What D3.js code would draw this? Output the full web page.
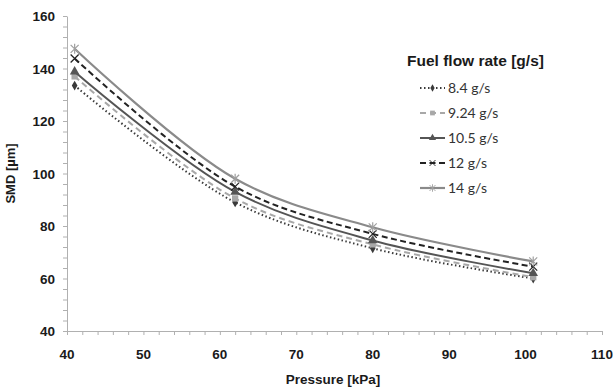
<!DOCTYPE html>
<html>
<head>
<meta charset="utf-8">
<script src="https://cdn.jsdelivr.net/npm/d3@7"></script>
<style>
  body { margin: 0; background: #fff; }
  svg { font-family: "Liberation Sans", Arial, sans-serif; }
</style>
</head>
<body>
<div id="chart"></div>
<script>
var pressure = [41, 62, 80, 101];
var seriesNames = ["8.4 g/s", "9.24 g/s", "10.5 g/s", "12 g/s", "14 g/s"];
var smd84 = [133.5, 89, 71.5, 60];
var smd924 = [137, 90.5, 73, 60.5];
var smd105 = [138.8, 93, 74.5, 62];
var smd12 = [143.8, 95, 77, 64.5];
var smd14 = [147.5, 98, 79.5, 66.5];
var xTicks = [40, 50, 60, 70, 80, 90, 100, 110];
var yTicks = [40, 60, 80, 100, 120, 140, 160];

var width = 613, height = 389;
var svg = d3.select("#chart").append("svg")
  .attr("width", width)
  .attr("height", height);

var scX = d3.scaleLinear().domain([40, 110]).range([67, 602]);
var scY = d3.scaleLinear().domain([40, 160]).range([331, 16]);

// axes
var axGrey = "#b0b0b0";
var xMinor = d3.range(40, 110.1, 2);
var yMinor = d3.range(40, 160.1, 4);

var gx = svg.append("g").attr("transform", `translate(0, ${scY(40)})`);
gx.call(d3.axisBottom(scX).tickValues(xMinor).tickFormat("").tickSize(4).tickSizeOuter(0));
gx.call(g => g.selectAll("line, path").attr("stroke", axGrey));
gx.append("g").selectAll("text")
  .data(xTicks).enter().append("text")
  .attr("x", d => scX(d))
  .attr("y", 28)
  .attr("text-anchor", "middle")
  .attr("font-size", 13.5)
  .attr("font-weight", "bold")
  .attr("fill", "#1a1a1a")
  .text(d => d);

var gy = svg.append("g").attr("transform", `translate(${scX(40)}, 0)`);
gy.call(d3.axisLeft(scY).tickValues(yMinor).tickFormat("").tickSize(4).tickSizeOuter(0));
gy.call(g => g.selectAll("line, path").attr("stroke", axGrey));
gy.append("g").selectAll("text")
  .data(yTicks).enter().append("text")
  .attr("x", -12)
  .attr("y", d => scY(d) + 5)
  .attr("text-anchor", "end")
  .attr("font-size", 13.5)
  .attr("font-weight", "bold")
  .attr("fill", "#1a1a1a")
  .text(d => d);

svg.append("text")
  .attr("x", 333).attr("y", 384)
  .attr("text-anchor", "middle")
  .attr("font-size", 13.5).attr("font-weight", "bold").attr("fill", "#1a1a1a")
  .text("Pressure [kPa]");
svg.append("text")
  .attr("transform", `translate(15, ${scY(100)}) rotate(-90)`)
  .attr("text-anchor", "middle")
  .attr("font-size", 13).attr("font-weight", "bold").attr("fill", "#1a1a1a")
  .text("SMD [µm]");

// series
var styles = [
  { values: smd84, color: "#3a3a3a", dash: "1.5,2.5", width: 2, marker: "diamond" },
  { values: smd924, color: "#a8a8a8", dash: "6,4", width: 2, marker: "square" },
  { values: smd105, color: "#555555", dash: null, width: 2, marker: "triangle" },
  { values: smd12, color: "#222222", dash: "6,3.5", width: 2, marker: "x" },
  { values: smd14, color: "#8a8a8a", dash: null, width: 2.2, marker: "star" }
];

var line = d3.line()
  .x(d => scX(d[0]))
  .y(d => scY(d[1]))
  .curve(d3.curveCatmullRom.alpha(0.5));

function drawMarker(g, type, color, x, y, k) {
  var m = g.append("g").attr("transform", `translate(${x},${y}) scale(${k})`);
  if (type == "diamond") {
    m.append("path").attr("d", d3.symbol().type(d3.symbolDiamond).size(28)).attr("fill", color);
  } else if (type == "square") {
    m.append("path").attr("d", d3.symbol().type(d3.symbolSquare).size(40)).attr("fill", color);
  } else if (type == "triangle") {
    m.append("path").attr("d", d3.symbol().type(d3.symbolTriangle).size(40)).attr("fill", color);
  } else if (type == "x") {
    m.append("path").attr("d", "M-4,-4L4,4M-4,4L4,-4").attr("stroke", color).attr("stroke-width", 1.2);
  } else {
    m.append("path").attr("d", "M-4,-4L4,4M-4,4L4,-4M0,-5L0,5").attr("stroke", color).attr("stroke-width", 1.2);
  }
}

var gs = svg.append("g");
styles.forEach(function(s) {
  var pts = pressure.map((p, i) => [p, s.values[i]]);
  gs.append("path")
    .attr("d", line(pts))
    .attr("fill", "none")
    .attr("stroke", s.color)
    .attr("stroke-width", s.width)
    .attr("stroke-dasharray", s.dash);
  pts.forEach(p => drawMarker(gs, s.marker, s.marker == "star" ? "#a0a0a0" : s.color, scX(p[0]), scY(p[1]), 1));
});

// legend
var lg = svg.append("g");
lg.append("text")
  .attr("x", 407).attr("y", 66)
  .attr("font-size", 15.5).attr("font-weight", "bold").attr("fill", "#1a1a1a")
  .text("Fuel flow rate [g/s]");
styles.forEach(function(s, i) {
  var y = 88 + i * 25;
  lg.append("line")
    .attr("x1", 420).attr("x2", 445)
    .attr("y1", y).attr("y2", y)
    .attr("stroke", s.color)
    .attr("stroke-width", s.width)
    .attr("stroke-dasharray", s.dash);
  drawMarker(lg, s.marker, s.marker == "star" ? "#a0a0a0" : s.color, 432.5, y, 0.75);
  lg.append("text")
    .attr("x", 448).attr("y", y + 5)
    .attr("font-size", 14).attr("fill", "#333")
    .attr("font-family", "Lato, sans-serif")
    .text(seriesNames[i]);
});
</script>
</body>
</html>
